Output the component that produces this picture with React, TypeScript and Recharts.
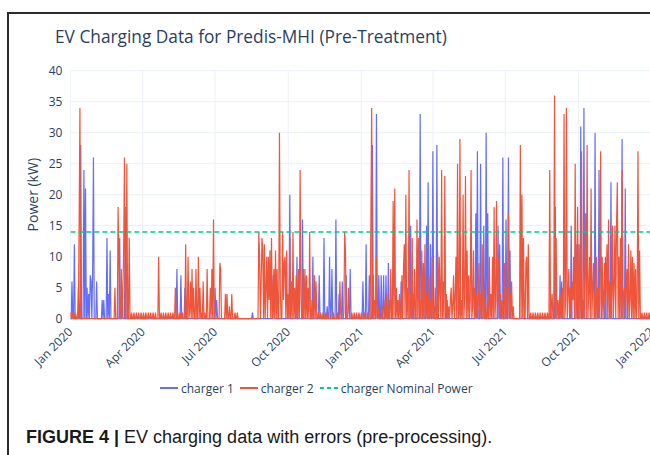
import React from "react";
import { LineChart, Line, XAxis, YAxis, CartesianGrid } from "recharts";

// ---- data (day index 0 = 1 Jan 2020) ----
const tickDays = [0, 91, 182, 274, 366, 456, 547, 639, 731];
const tickLabels = ["Jan 2020", "Apr 2020", "Jul 2020", "Oct 2020", "Jan 2021", "Apr 2021", "Jul 2021", "Oct 2021", "Jan 2022"];
const yTicks = [0, 5, 10, 15, 20, 25, 30, 35, 40];
const totalDays = 731;
const nominalPowerKw = 14;

// charger 1 readings [day, kW]
const charger1Readings: [number, number][] = [
  [2, 6], [5, 12], [10, 5], [13, 28], [17, 24], [19, 21], [21, 5], [23, 4], [25, 7], [26, 6], [28, 8], [29, 26], [33, 6],
  [40, 3], [42, 3], [46, 13], [48, 4], [50, 11], [62, 13], [65, 5], [69, 18],
  [134, 8], [139, 7], [144, 5], [182, 5], [184, 3], [229, 1],
  [255, 7], [276, 20], [285, 10], [292, 16], [305, 10], [313, 7], [319, 13], [323, 2], [326, 10], [329, 8], [334, 16],
  [338, 4], [342, 6], [347, 7], [352, 8],
  [368, 6], [372, 12], [376, 7], [380, 28], [385, 33], [388, 7], [391, 7], [394, 7], [397, 7], [400, 9], [416, 6],
  [428, 15], [431, 4], [440, 33], [444, 6], [448, 15], [450, 22], [453, 12], [456, 27], [461, 28], [474, 3], [489, 5],
  [510, 17], [512, 27], [516, 25], [520, 15], [523, 30], [525, 17], [538, 15],
  [540, 12], [544, 26], [548, 16], [551, 26], [553, 11], [604, 4], [610, 18], [616, 7], [618, 6], [630, 15], [637, 12],
  [642, 31], [646, 34], [660, 30], [665, 24], [673, 10], [680, 22], [694, 29], [698, 21],
];

// charger 2 idle readings (1 kW)
const charger2IdleDays = [
  0, 3, 6, 9,
  77, 80, 83, 86, 89, 92, 95, 98, 101, 104, 107, 114, 117, 120, 123, 126, 129, 135, 138, 141, 150, 165, 169,
  207, 210,
  312, 315, 318, 321, 324, 331, 336, 340, 344, 349, 354, 357, 360, 363, 366, 370, 374,
  579, 582, 585, 588, 591, 594, 597, 600,
  719, 722, 725, 728,
];

// charger 2 low readings [day, kW]
const charger2LowReadings: [number, number][] = [
  [383, 3], [387, 2], [392, 2], [396, 3], [401, 3], [412, 3], [428, 4], [440, 3], [448, 4], [453, 3], [457, 2],
  [465, 4], [478, 3], [481, 2], [484, 3], [489, 2], [496, 4], [503, 3], [506, 2], [511, 4], [513, 3], [516, 4],
  [520, 5], [522, 3], [525, 3], [529, 4], [535, 3], [538, 5], [543, 3], [548, 5], [550, 3], [553, 4],
  [605, 2], [615, 3], [617, 4], [619, 5], [623, 3], [626, 4], [629, 5], [632, 3], [637, 4], [642, 5], [645, 3],
  [647, 6], [652, 4], [657, 5], [660, 4], [664, 5], [666, 3], [671, 4], [674, 5], [679, 6], [681, 4], [684, 5],
  [696, 4], [699, 5], [704, 3], [713, 4],
];

// charger 2 peak readings [day, kW]
const charger2Readings: [number, number][] = [
  [11, 16], [12, 34], [56, 5], [60, 18], [61, 9], [64, 8], [66, 5], [67, 11], [68, 26], [71, 25], [74, 13],
  [111, 10], [132, 5], [145, 12], [148, 10], [151, 6], [153, 8], [155, 5], [158, 8], [161, 10], [163, 5], [167, 6],
  [172, 8], [176, 5], [178, 8], [180, 16], [188, 9], [189, 8], [195, 4], [197, 4], [200, 2], [203, 4],
  [237, 14], [238, 10], [240, 6], [241, 13], [242, 11], [244, 12], [246, 5], [247, 10], [249, 10], [250, 3], [251, 11],
  [253, 13], [255, 5], [256, 8], [258, 11], [260, 8], [263, 30], [264, 5], [267, 14], [268, 3], [269, 9], [270, 10],
  [272, 11], [274, 4], [276, 13], [278, 6], [280, 14], [282, 5], [284, 7], [287, 8], [289, 24], [290, 4], [293, 8],
  [295, 8], [297, 7], [299, 5], [301, 14], [304, 3], [307, 7], [309, 6], [339, 6], [345, 14], [346, 11], [350, 5],
  [378, 16], [379, 34], [381, 7], [385, 10], [398, 4], [403, 8], [406, 19], [408, 21], [410, 5], [414, 4], [417, 7],
  [419, 8], [420, 12], [422, 20], [424, 5], [426, 24], [430, 13], [433, 8], [436, 16], [438, 13], [442, 11], [444, 9],
  [446, 12], [451, 7], [455, 10], [459, 5], [462, 11], [464, 10], [467, 24], [469, 6], [471, 23], [473, 4], [476, 2],
  [479, 5], [482, 7], [485, 10], [487, 25], [490, 29], [492, 3], [494, 20], [497, 23], [499, 11], [501, 7], [504, 24],
  [507, 11], [509, 5], [514, 9], [518, 12], [527, 10], [531, 10], [533, 18], [536, 19], [539, 10],
  [541, 4], [546, 9], [551, 17], [555, 6], [557, 2], [566, 28], [568, 20], [570, 13], [573, 9], [574, 10], [576, 12],
  [603, 24], [606, 4], [609, 36], [611, 13], [613, 3], [621, 33], [624, 34], [627, 8], [631, 6], [633, 10], [635, 25],
  [638, 18], [640, 12], [643, 27], [648, 17], [650, 28], [653, 10], [655, 21], [658, 9], [662, 10], [667, 27],
  [669, 10], [672, 9], [675, 12], [677, 16], [682, 15], [685, 15], [687, 15], [688, 22], [690, 10], [692, 13],
  [694, 24], [697, 5], [700, 8], [702, 12], [705, 11], [707, 10], [709, 9], [711, 8], [714, 27], [716, 11],
];

// ---- table for the chart ----
const rows = Array.from({ length: totalDays }, (_, d) => ({ day: d, c1: 0, c2: 0, nominal: nominalPowerKw }));
charger1Readings.forEach(([d, v]) => { rows[d].c1 = v; });
charger2IdleDays.forEach((d) => { rows[d].c2 = 1; });
charger2LowReadings.forEach(([d, v]) => { rows[d].c2 = v; });
charger2Readings.forEach(([d, v]) => { rows[d].c2 = v; });

const BLUE = "#636efa";
const RED = "#ef553b";
const TEAL = "#00cc96";
const TXT = "#2a3f5f";
const FONT = "'Open Sans', 'DejaVu Sans', sans-serif";

const DateTick = (props: any) => {
  const { x, y, payload } = props;
  const idx = tickDays.indexOf(payload.value);
  return (
    <g transform={`translate(${x + 3},${y + 6})`}>
      <text x={0} y={0} textAnchor="end" transform="rotate(-45)" fill={TXT} fontSize={12} fontFamily={FONT}>
        {tickLabels[idx]}
      </text>
    </g>
  );
};

const YLabel = (props: any) => {
  const vb = props.viewBox || {};
  const cy = (vb.y || 0) + (vb.height || 0) / 2;
  const cx = 33;
  return (
    <text x={cx} y={cy} transform={`rotate(-90 ${cx} ${cy})`} textAnchor="middle" dominantBaseline="central"
      fill={TXT} fontSize={14} fontFamily={FONT}>Power (kW)</text>
  );
};

const legendItems = [
  { name: "charger 1", color: BLUE, dash: undefined as string | undefined },
  { name: "charger 2", color: RED, dash: undefined as string | undefined },
  { name: "charger Nominal Power", color: TEAL, dash: "4 3" },
];

export default function App() {
  return (
    <div style={{ position: "absolute", left: 0, top: 0, width: 650, height: 455, overflow: "hidden", background: "#fff" }}>
      <div style={{ position: "absolute", left: 7, top: 12, width: 700, height: 500, borderLeft: "2px solid #2b2b2b", borderTop: "2px solid #2b2b2b" }} />
      <div style={{ position: "absolute", left: 55, top: 25, fontFamily: FONT, fontSize: 17.3, color: TXT, whiteSpace: "nowrap" }}>
        EV Charging Data for Predis-MHI (Pre-Treatment)
      </div>
      <div style={{ position: "absolute", left: 0, top: 0 }}>
        <LineChart width={700} height={455} data={rows} margin={{ top: 70.7, right: 48.5, bottom: 76.3, left: 0.4 }}>
          <CartesianGrid stroke="#ebf0f8" strokeWidth={1} horizontal={true} vertical={true} />
          <XAxis dataKey="day" type="number" domain={[0, totalDays]} ticks={tickDays} interval={0}
            axisLine={false} tickLine={false} height={60} tick={<DateTick />} allowDataOverflow />
          <YAxis type="number" domain={[0, 40]} ticks={yTicks} interval={0} width={70} axisLine={false} tickLine={false}
            tickMargin={2} tick={{ fill: TXT, fontSize: 12, fontFamily: FONT }} label={<YLabel />} />
          <Line type="linear" dataKey="c1" name="charger 1" stroke={BLUE} strokeWidth={1.2} dot={false} isAnimationActive={false} />
          <Line type="linear" dataKey="c2" name="charger 2" stroke={RED} strokeWidth={1.2} dot={false} isAnimationActive={false} />
          <Line type="linear" dataKey="nominal" name="charger Nominal Power" stroke={TEAL} strokeWidth={1.5}
            strokeDasharray="5 3" dot={false} isAnimationActive={false} />
        </LineChart>
      </div>
      <div style={{ position: "absolute", left: 160, top: 379, display: "flex", alignItems: "center", fontFamily: FONT, fontSize: 12, color: TXT, whiteSpace: "nowrap" }}>
        {legendItems.map((it) => (
          <div key={it.name} style={{ display: "flex", alignItems: "center", marginRight: 6 }}>
            <svg width={18} height={18}>
              <line x1={0} y1={9} x2={18} y2={9} stroke={it.color} strokeWidth={2} strokeDasharray={it.dash} />
            </svg>
            <span style={{ marginLeft: 3 }}>{it.name}</span>
          </div>
        ))}
      </div>
      <div style={{ position: "absolute", left: 26, top: 427, fontFamily: "'Liberation Sans', Arial, sans-serif", fontSize: 18, color: "#1a1a1a", whiteSpace: "nowrap" }}>
        <span style={{ fontWeight: 700 }}>FIGURE 4 | </span>EV charging data with errors (pre-processing).
      </div>
    </div>
  );
}
